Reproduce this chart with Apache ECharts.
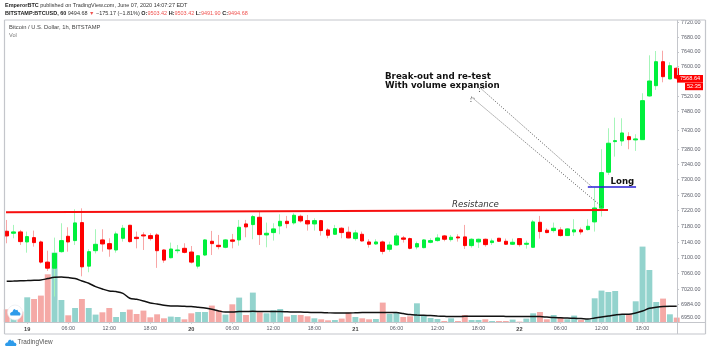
<!DOCTYPE html>
<html><head><meta charset="utf-8">
<style>html,body{margin:0;padding:0;background:#fff}#c{width:714px;height:352px}</style>
<script src="https://cdn.jsdelivr.net/npm/echarts@6/dist/echarts.min.js"></script>
</head><body><div id="c"></div>
<script>
// [open, close, low, high]
const candles = [
[7167.4,7155.5,7136.8,7196.3],[7162.3,7165.7,7149.5,7183.6],[7165.7,7141.0,7132.5,7170.8],[7140.2,7153.8,7113.0,7166.6],
[7151.2,7138.5,7128.3,7169.1],[7140.2,7089.1,7085.7,7143.6],[7089.1,7073.8,7067.0,7118.0],[7073.8,7111.2,7002.8,7151.2],
[7115.5,7143.6,7113.0,7187.8],[7154.6,7140.2,7115.5,7177.6],[7143.6,7188.7,7132.5,7223.6],[7189.5,7077.2,7053.4,7226.1],
[7078.9,7115.5,7063.6,7121.5],[7118.0,7134.2,7111.2,7172.5],[7145.3,7135.1,7115.5,7172.5],[7135.9,7122.3,7102.7,7149.5],
[7119.8,7160.6,7113.0,7166.6],[7149.5,7175.1,7141.0,7183.6],[7182.7,7141.0,7138.5,7183.6],[7152.1,7148.7,7124.0,7166.6],
[7158.0,7155.5,7119.8,7164.9],[7156.3,7148.7,7143.6,7162.3],[7158.0,7118.0,7074.6,7162.3],[7119.8,7094.2,7087.4,7121.5],
[7100.2,7122.3,7098.5,7138.5],[7118.0,7119.8,7111.2,7132.5],[7124.0,7113.8,7111.2,7136.8],[7114.6,7089.1,7085.7,7129.9],
[7078.9,7105.3,7072.9,7107.0],[7107.0,7145.3,7104.4,7147.0],[7141.9,7135.9,7107.0,7168.3],[7131.7,7128.3,7121.5,7158.0],
[7126.6,7145.3,7124.0,7147.0],[7145.3,7141.9,7124.0,7160.6],[7145.3,7177.6,7130.8,7196.3],[7186.1,7178.5,7152.1,7196.3],
[7184.4,7204.9,7147.0,7209.1],[7203.1,7158.9,7132.5,7217.6],[7158.0,7162.3,7126.6,7189.5],[7164.0,7173.4,7143.6,7187.8],
[7181.0,7192.9,7159.7,7210.8],[7192.9,7187.0,7175.1,7206.6],[7188.7,7208.3,7184.4,7213.4],[7205.7,7193.8,7189.5,7210.0],
[7194.6,7186.1,7169.1,7209.1],[7186.1,7194.6,7169.1,7200.6],[7194.6,7169.1,7156.3,7196.3],[7170.8,7157.2,7149.5,7175.1],
[7159.7,7174.2,7158.0,7183.6],[7175.1,7164.0,7149.5,7177.6],[7164.9,7150.4,7149.5,7179.3],[7148.7,7163.2,7143.6,7170.8],
[7159.7,7142.7,7141.0,7166.6],[7140.2,7134.2,7125.7,7147.0],[7135.1,7140.2,7132.5,7147.0],[7140.2,7116.3,7108.7,7143.6],
[7121.5,7132.5,7115.5,7141.0],[7132.5,7155.5,7130.8,7162.3],[7150.4,7147.0,7138.5,7155.5],[7148.7,7124.0,7121.5,7151.2],
[7127.4,7135.9,7121.5,7141.0],[7125.7,7145.3,7124.0,7147.0],[7139.3,7143.6,7136.8,7149.5],[7143.6,7150.4,7141.0,7159.7],
[7155.5,7147.0,7141.9,7158.0],[7146.1,7152.1,7141.0,7158.0],[7152.9,7150.4,7141.0,7159.7],[7153.0,7130.9,7122.3,7183.6],
[7130.9,7147.0,7125.7,7149.6],[7140.2,7147.0,7124.9,7148.7],[7147.0,7133.4,7128.3,7148.7],[7138.5,7142.8,7132.5,7148.7],
[7149.6,7141.9,7140.2,7150.4],[7141.9,7134.3,7132.5,7148.7],[7134.3,7139.4,7132.5,7148.7],[7148.7,7133.4,7128.3,7149.6],
[7134.3,7136.8,7123.2,7143.6],[7126.6,7191.3,7125.8,7196.4],[7190.4,7166.6,7148.7,7206.6],[7170.0,7164.0,7162.3,7175.1],
[7169.1,7175.1,7164.0,7189.6],[7170.9,7156.4,7153.8,7177.7],[7156.4,7173.4,7155.5,7175.1],[7165.7,7170.9,7155.5,7198.1],
[7170.9,7165.7,7158.9,7176.8],[7171.7,7180.2,7169.1,7198.1],[7191.3,7227.0,7166.6,7279.8],[7226.5,7318.6,7205.0,7379.7],
[7319.6,7395.5,7312.6,7435.0],[7399.7,7402.3,7360.3,7463.1],[7401.5,7422.6,7388.4,7461.5],[7412.8,7404.9,7379.7,7424.5],
[7404.2,7406.8,7375.3,7419.2],[7404.9,7508.4,7404.2,7528.2],[7520.9,7561.1,7519.1,7630.5],[7548.5,7613.2,7537.0,7642.2],
[7613.2,7572.7,7557.6,7643.0],[7566.5,7602.4,7565.8,7611.6],[7595.4,7568.64,7565.0,7598.0]
];
const volume = [130,57,107,250,233,267,480,697,223,70,143,233,143,77,100,143,53,103,127,83,117,50,80,40,57,53,30,90,103,103,167,123,77,180,247,73,297,100,90,120,133,57,73,73,60,40,30,20,23,37,97,53,40,30,33,197,83,103,53,60,190,73,43,33,13,40,13,73,23,23,30,13,13,13,27,7,37,90,103,30,73,50,30,67,23,30,240,317,303,313,80,80,210,757,523,203,237,80,47];
const volumeAvg = [410,412,415,417,420,423,437,450,453,447,437,413,390,357,333,313,307,290,240,230,213,193,183,170,163,163,160,157,150,143,130,113,103,103,107,108,110,108,107,107,107,105,103,102,100,98,97,95,93,93,93,95,97,97,97,97,97,97,87,77,73,70,67,63,60,57,57,60,60,60,60,60,60,59,58,57,57,57,57,52,47,45,43,40,37,33,43,53,63,73,80,80,93,113,140,150,157,160,160];
const xTickIndex = [3,9,15,21,27,33,39,45,51,57,63,69,75,81,87,93];
const xTickLabels = ['19','06:00','12:00','18:00','20','06:00','12:00','18:00','21','06:00','12:00','18:00','22','06:00','12:00','18:00'];
const yTickValues = [6950,6984,7020,7060,7100,7140,7180,7220,7260,7300,7340,7380,7430,7480,7520,7600,7640,7680,7720];
const resistanceLine = [[-0.1,7215.9],[87.95,7221.6]];
const longLine = [[85.0,7281.4],[92.05,7281.4]];
const arrowUpper = [[69.47,7538.9],[85.56,7282.2]];
const arrowLower = [[68.01,7517.5],[87.03,7230.6]];
const arrowHeadA = [[69.15,7531.7],[69.15,7542.3],[69.96,7541.0]];
const arrowHeadB = [[67.9,7504.9],[67.9,7518.2],[68.64,7512.9]];
const lastPrice = '7568.64', countdown = '52:35';

const UP='#00f03c', DOWN='#ff0000', UPW='#a6f5ba', DOWNW='#f8a6a6', TEAL='#93d3cd', SALMON='#f5a9a6', AX='#c4c6cb', TXT='#5d606b';
const withIdx = candles.map((c,i)=>[i,...c]);
const bodies = candles.map((c,i)=>[i,c[0],c[1],Math.min(c[0],c[1]),Math.max(c[0],c[1])]);
const dotted = (d)=>({type:'line',data:d,xAxisIndex:0,yAxisIndex:0,symbol:'none',silent:true,animation:false,clip:false,z:6,lineStyle:{color:'#555',width:1,type:[1,1.6]}});
const solid = (d,color,w)=>({type:'line',data:d,xAxisIndex:0,yAxisIndex:0,symbol:'none',silent:true,animation:false,clip:false,z:7,lineStyle:{color,width:w}});
const cloud=(x,y,w,h)=>[[0.05,1],[0,0.72],[0.1,0.5],[0.22,0.45],[0.32,0.12],[0.45,0],[0.56,0.2],[0.7,0.12],[0.8,0.45],[0.93,0.52],[1,0.75],[0.95,1]].map(p=>[x+p[0]*w,y+p[1]*h]);
const chart = echarts.init(document.getElementById('c'),null,{renderer:'canvas'});
chart.setOption({
  animation:false,
  grid:{left:5,top:20,width:672,height:302.3,containLabel:false},
  xAxis:{type:'value',min:-0.25,max:98.04,splitLine:{show:false},
    axisLine:{show:false,onZero:false},
    axisTick:{show:true,length:1.5,lineStyle:{color:AX,width:1},customValues:xTickIndex},
    axisLabel:{show:true,margin:4,fontSize:5.4,fontFamily:'Liberation Sans',color:TXT,customValues:xTickIndex,
      formatter:(v)=>{const s=xTickLabels[xTickIndex.indexOf(Math.round(v))]||'';return s.length<3?'{d|'+s+'}':s;},
      rich:{d:{fontWeight:'bold',fontSize:5.6,fontFamily:'Liberation Sans',color:'#444'}}}},
  yAxis:[
    {type:'log',position:'right',min:6938.9,max:7727,splitLine:{show:false},minorTick:{show:false},
      axisLine:{show:false,onZero:false},
      axisTick:{show:true,length:2,lineStyle:{color:AX,width:1},customValues:yTickValues},
      axisLabel:{show:true,margin:4,fontSize:5.4,fontFamily:'Liberation Sans',color:TXT,customValues:yTickValues,formatter:(v)=>Number(v).toFixed(2)}},
    {type:'value',min:0,max:3023,show:false,axisLine:{onZero:false},splitLine:{show:false}}
  ],
  series:[
    {type:'bar',xAxisIndex:0,yAxisIndex:1,barWidth:5.9,z:1,silent:true,
      data:volume.map((v,i)=>({value:[i,v],itemStyle:{color:candles[i][1]>=candles[i][0]?TEAL:SALMON}}))},
    {type:'line',xAxisIndex:0,yAxisIndex:1,symbol:'none',z:3,silent:true,smooth:0.3,data:volumeAvg.map((v,i)=>[i,v]),lineStyle:{color:'#111',width:1.5}},
    {type:'candlestick',xAxisIndex:0,yAxisIndex:0,barWidth:1,z:2,silent:true,data:withIdx,
      encode:{x:0,y:[1,2,3,4]},
      itemStyle:{color:UPW,color0:DOWNW,borderColor:UPW,borderColor0:DOWNW,borderWidth:1}},
    {type:'candlestick',xAxisIndex:0,yAxisIndex:0,barWidth:4,z:4,silent:true,data:bodies,
      encode:{x:0,y:[1,2,3,4]},
      itemStyle:{color:UP,color0:DOWN,borderColor:UP,borderColor0:DOWN,borderWidth:1}},
    dotted(arrowUpper),dotted(arrowLower),dotted(arrowHeadA),dotted(arrowHeadB),
    solid(resistanceLine,'#f70f0f',2),
    solid(longLine,'#2a1fd6',1.5)
  ],
  graphic:[
    {type:'line',silent:true,z:20,shape:{x1:4.5,y1:20,x2:705.5,y2:20},style:{stroke:AX,lineWidth:1}},
    {type:'line',silent:true,z:20,shape:{x1:4.5,y1:20,x2:4.5,y2:334},style:{stroke:AX,lineWidth:1.2}},
    {type:'line',silent:true,z:20,shape:{x1:705.5,y1:20,x2:705.5,y2:334},style:{stroke:AX,lineWidth:1.2}},
    {type:'line',silent:true,z:20,shape:{x1:4.5,y1:334,x2:705.5,y2:334},style:{stroke:AX,lineWidth:1.2}},
    {type:'line',silent:true,z:20,shape:{x1:4.5,y1:322.5,x2:705.5,y2:322.5},style:{stroke:AX,lineWidth:1}},
    {type:'line',silent:true,z:20,shape:{x1:677.5,y1:20,x2:677.5,y2:334},style:{stroke:AX,lineWidth:1}},
    {type:'text',silent:true,z:21,x:5,y:3,style:{fontFamily:'Liberation Sans',fontSize:5.47,fill:'#333',
      text:'{b|EmperorBTC} published on TradingView.com, June 07, 2020 14:07:27 EDT',
      rich:{b:{fontWeight:'bold',fontSize:5.47,fontFamily:'Liberation Sans',fill:'#222'}}}},
    {type:'text',silent:true,z:21,x:5,y:11,style:{fontFamily:'Liberation Sans',fontSize:5.47,fill:'#333',
      text:'{b|BITSTAMP:BTCUSD, 60} 9494.68 {r|▼} −175.17 (−1.81%) {b|O:}{r|9503.42} {b|H:}{r|9503.42} {b|L:}{r|9491.90} {b|C:}{r|9494.68}',
      rich:{b:{fontWeight:'bold',fontSize:5.47,fontFamily:'Liberation Sans',fill:'#222'},r:{fontSize:5.47,fontFamily:'Liberation Sans',fill:'#ef5350'}}}},
    {type:'text',silent:true,z:21,x:9,y:24.5,style:{text:'Bitcoin / U.S. Dollar, 1h, BITSTAMP',fontFamily:'Liberation Sans',fontSize:5.8,fill:'#444'}},
    {type:'text',silent:true,z:21,x:9,y:32,style:{text:'Vol',fontFamily:'Liberation Sans',fontSize:5.6,fill:'#777'}},
    {type:'text',silent:true,z:21,x:385,y:72.2,style:{text:'Break-out and re-test',fontFamily:'DejaVu Sans',fontWeight:'bold',fontSize:8.7,fill:'#111'}},
    {type:'text',silent:true,z:21,x:385,y:81.4,style:{text:'With volume expansion',fontFamily:'DejaVu Sans',fontWeight:'bold',fontSize:8.7,fill:'#111'}},
    {type:'text',silent:true,z:21,x:610.5,y:177,style:{text:'Long',fontFamily:'DejaVu Sans',fontWeight:'bold',fontSize:8.6,fill:'#111'}},
    {type:'text',silent:true,z:21,x:452,y:200.5,style:{text:'Resistance',fontFamily:'DejaVu Sans',fontStyle:'italic',fontSize:8.6,fill:'#333'}},
    {type:'rect',silent:true,z:21,shape:{x:677,y:75,width:26,height:7.6},style:{fill:'#ff0000'}},
    {type:'rect',silent:true,z:21,shape:{x:685,y:82.8,width:18,height:7.4},style:{fill:'#ff0000'}},
    {type:'text',silent:true,z:22,x:690,y:78.8,style:{text:lastPrice,align:'center',verticalAlign:'middle',fontFamily:'Liberation Sans',fontSize:5.6,fill:'#fff'}},
    {type:'text',silent:true,z:22,x:694,y:86.5,style:{text:countdown,align:'center',verticalAlign:'middle',fontFamily:'Liberation Sans',fontSize:5.6,fill:'#fff'}},
    {type:'circle',silent:true,z:21,shape:{cx:15,cy:312.5,r:7.5},style:{fill:'#fff',stroke:'#e4e7ec',lineWidth:0.6}},
    {type:'polygon',silent:true,z:22,shape:{points:cloud(10,309,10.5,6.5)},style:{fill:'#2e9bea'}},
    {type:'polygon',silent:true,z:21,shape:{points:cloud(5,339.5,11.5,6.5)},style:{fill:'#2e9bea'}},
    {type:'text',silent:true,z:21,x:17.5,y:339.5,style:{text:'TradingView',fontFamily:'Liberation Sans',fontSize:6.4,fill:'#555'}}
  ]
});
</script></body></html>
